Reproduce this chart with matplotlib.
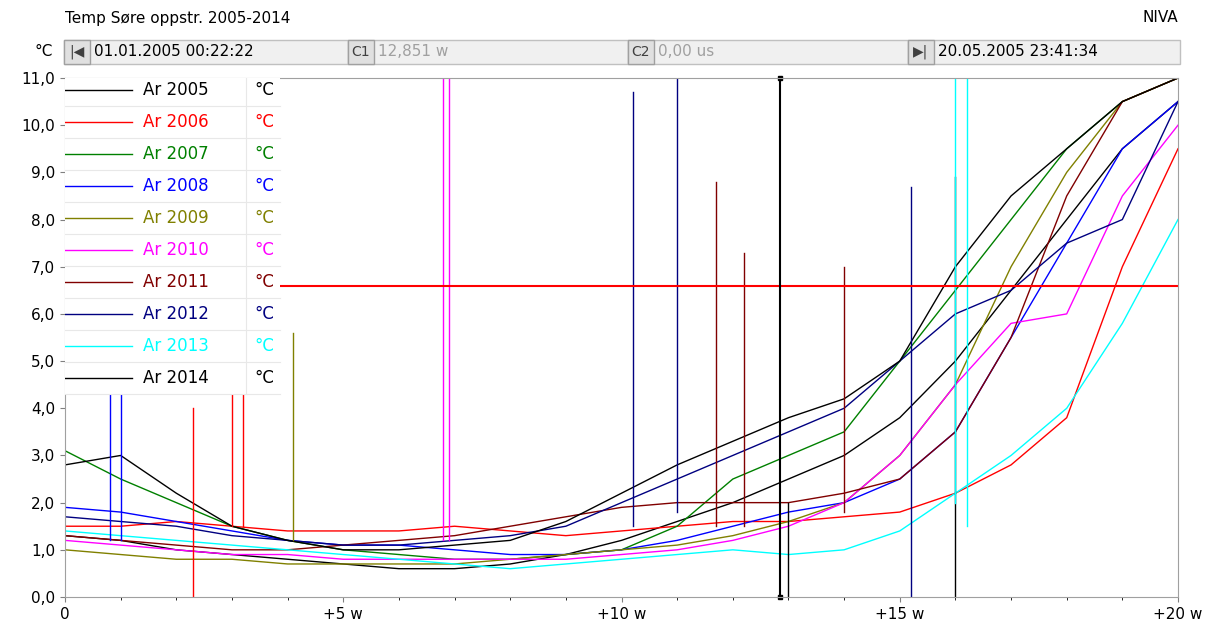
import matplotlib
matplotlib.use("Agg")
import matplotlib.pyplot as plt
from matplotlib.patches import Rectangle

weeks = list(range(21))
years = ["Ar 2005","Ar 2006","Ar 2007","Ar 2008","Ar 2009","Ar 2010","Ar 2011","Ar 2012","Ar 2013","Ar 2014"]
colors = ["#000000","#ff0000","#008000","#0000ff","#808000","#ff00ff","#800000","#000080","#00ffff","#000000"]
y2005 = [1.3,1.2,1.0,0.9,0.8,0.7,0.6,0.6,0.7,0.9,1.2,1.6,2.0,2.5,3.0,3.8,5.0,6.5,8.0,9.5,10.5]
y2006 = [1.5,1.5,1.6,1.5,1.4,1.4,1.4,1.5,1.4,1.3,1.4,1.5,1.6,1.6,1.7,1.8,2.2,2.8,3.8,7.0,9.5]
y2007 = [3.1,2.5,2.0,1.5,1.2,1.0,0.9,0.8,0.8,0.9,1.0,1.5,2.5,3.0,3.5,5.0,6.5,8.0,9.5,10.5,11.0]
y2008 = [1.9,1.8,1.6,1.4,1.2,1.1,1.1,1.0,0.9,0.9,1.0,1.2,1.5,1.8,2.0,2.5,3.5,5.5,7.5,9.5,10.5]
y2009 = [1.0,0.9,0.8,0.8,0.7,0.7,0.7,0.7,0.8,0.9,1.0,1.1,1.3,1.6,2.0,3.0,4.5,7.0,9.0,10.5,11.0]
y2010 = [1.2,1.1,1.0,0.9,0.9,0.8,0.8,0.8,0.8,0.8,0.9,1.0,1.2,1.5,2.0,3.0,4.5,5.8,6.0,8.5,10.0]
y2011 = [1.3,1.2,1.1,1.0,1.0,1.1,1.2,1.3,1.5,1.7,1.9,2.0,2.0,2.0,2.2,2.5,3.5,5.5,8.5,10.5,11.0]
y2012 = [1.7,1.6,1.5,1.3,1.2,1.1,1.1,1.2,1.3,1.5,2.0,2.5,3.0,3.5,4.0,5.0,6.0,6.5,7.5,8.0,10.5]
y2013 = [1.4,1.3,1.2,1.1,1.0,0.9,0.8,0.7,0.6,0.7,0.8,0.9,1.0,0.9,1.0,1.4,2.2,3.0,4.0,5.8,8.0]
y2014 = [2.8,3.0,2.2,1.5,1.2,1.0,1.0,1.1,1.2,1.6,2.2,2.8,3.3,3.8,4.2,5.0,7.0,8.5,9.5,10.5,11.0]
series = [y2005,y2006,y2007,y2008,y2009,y2010,y2011,y2012,y2013,y2014]
# spikes: (series index, week, low, high)
spikes = [(5,6.8,1.2,11.0),(5,6.9,1.2,11.0),(7,10.2,1.5,10.7),(7,11.0,1.8,11.0),(6,11.7,1.5,8.8),
          (6,12.2,1.5,7.3),(6,14.0,1.8,7.0),(7,15.2,0.0,8.7),(8,16.2,1.5,11.0),(1,2.3,0.0,4.0),
          (1,3.0,1.5,4.4),(1,3.2,1.5,4.4),(3,0.8,1.2,4.4),(3,1.0,1.2,4.4),(4,4.1,1.2,5.6),(9,16.0,0.0,8.9),
          (0,13.0,0.0,2.0),(8,16.0,2.0,11.0)]

fig = plt.figure(figsize=(12.11,6.43), dpi=100)
fig.patch.set_facecolor("white")
ax = fig.add_axes([65/1211, 46/643, 1113/1211, 519/643])
for s, c in zip(series, colors):
    ax.plot(weeks, s, color=c, lw=1)
for i, w, lo, hi in spikes:
    ax.plot([w, w], [lo, hi], color=colors[i], lw=1)
ax.axhline(6.6, xmin=(280-65)/1113, color="red", lw=1.5)
ax.plot([12.85,12.85],[0,11],color="black",lw=1.5)
ax.plot([12.85,12.85],[0,11],"s",color="black",ms=3,clip_on=False)
ax.set_xlim(0,20); ax.set_ylim(0,11)
ax.set_yticks(range(12))
ax.set_yticklabels([f"{v},0" for v in range(12)], fontsize=11)
ax.set_xticks([0,5,10,15,20])
ax.set_xticklabels(["0","+5 w","+10 w","+15 w","+20 w"], fontsize=11)
ax.set_xticks(range(21), minor=True)
for sp in ax.spines.values():
    sp.set_color("#a0a0a0")
ax.tick_params(colors="#808080", labelcolor="black")

# legend
lx1 = (280-65)/1113*20
ax.add_patch(Rectangle((0,4.3),lx1,11-4.3,facecolor="white",edgecolor="none",zorder=3))
step = 0.679
for k,(name,c) in enumerate(zip(years,colors)):
    yy = 10.75 - k*step
    ax.plot([0.0,1.2],[yy,yy],color=c,lw=1,zorder=4)
    ax.text(1.4,yy,name,color=c,fontsize=12,va="center",zorder=4)
    ax.text(3.4,yy,"°C",color=c,fontsize=12,va="center",zorder=4)
    ax.plot([0,lx1],[yy-step/2,yy-step/2],color="#e8e8e8",lw=0.8,zorder=4)
ax.plot([3.25,3.25],[4.3,11],color="#e8e8e8",lw=0.8,zorder=4)

fig.text(65/1211,1-18/643,"Temp Søre oppstr. 2005-2014",fontsize=11,va="center")
fig.text(1178/1211,1-18/643,"NIVA",fontsize=11,va="center",ha="right")
fig.text(35/1211,1-52/643,"°C",fontsize=11,va="center")
boxes = [(64,348,"01.01.2005 00:22:22","black","|◀"),(348,628,"12,851 w","#a0a0a0","C1"),
         (628,908,"0,00 us","#a0a0a0","C2"),(908,1180,"20.05.2005 23:41:34","black","▶|")]
for x0,x1,txt,tc,lab in boxes:
    fig.patches.append(Rectangle((x0/1211,1-64/643),(x1-x0)/1211,24/643,transform=fig.transFigure,
                                 facecolor="#f0f0f0",edgecolor="#c0c0c0",lw=1))
    fig.patches.append(Rectangle((x0/1211,1-64/643),26/1211,24/643,transform=fig.transFigure,
                                 facecolor="#e0e0e0",edgecolor="#a0a0a0",lw=1))
    fig.text((x0+13)/1211,1-52/643,lab,fontsize=10,ha="center",va="center",color="#404040")
    fig.text((x0+30)/1211,1-52/643,txt,fontsize=11,va="center",color=tc)
fig.savefig("out.png",dpi=100)
